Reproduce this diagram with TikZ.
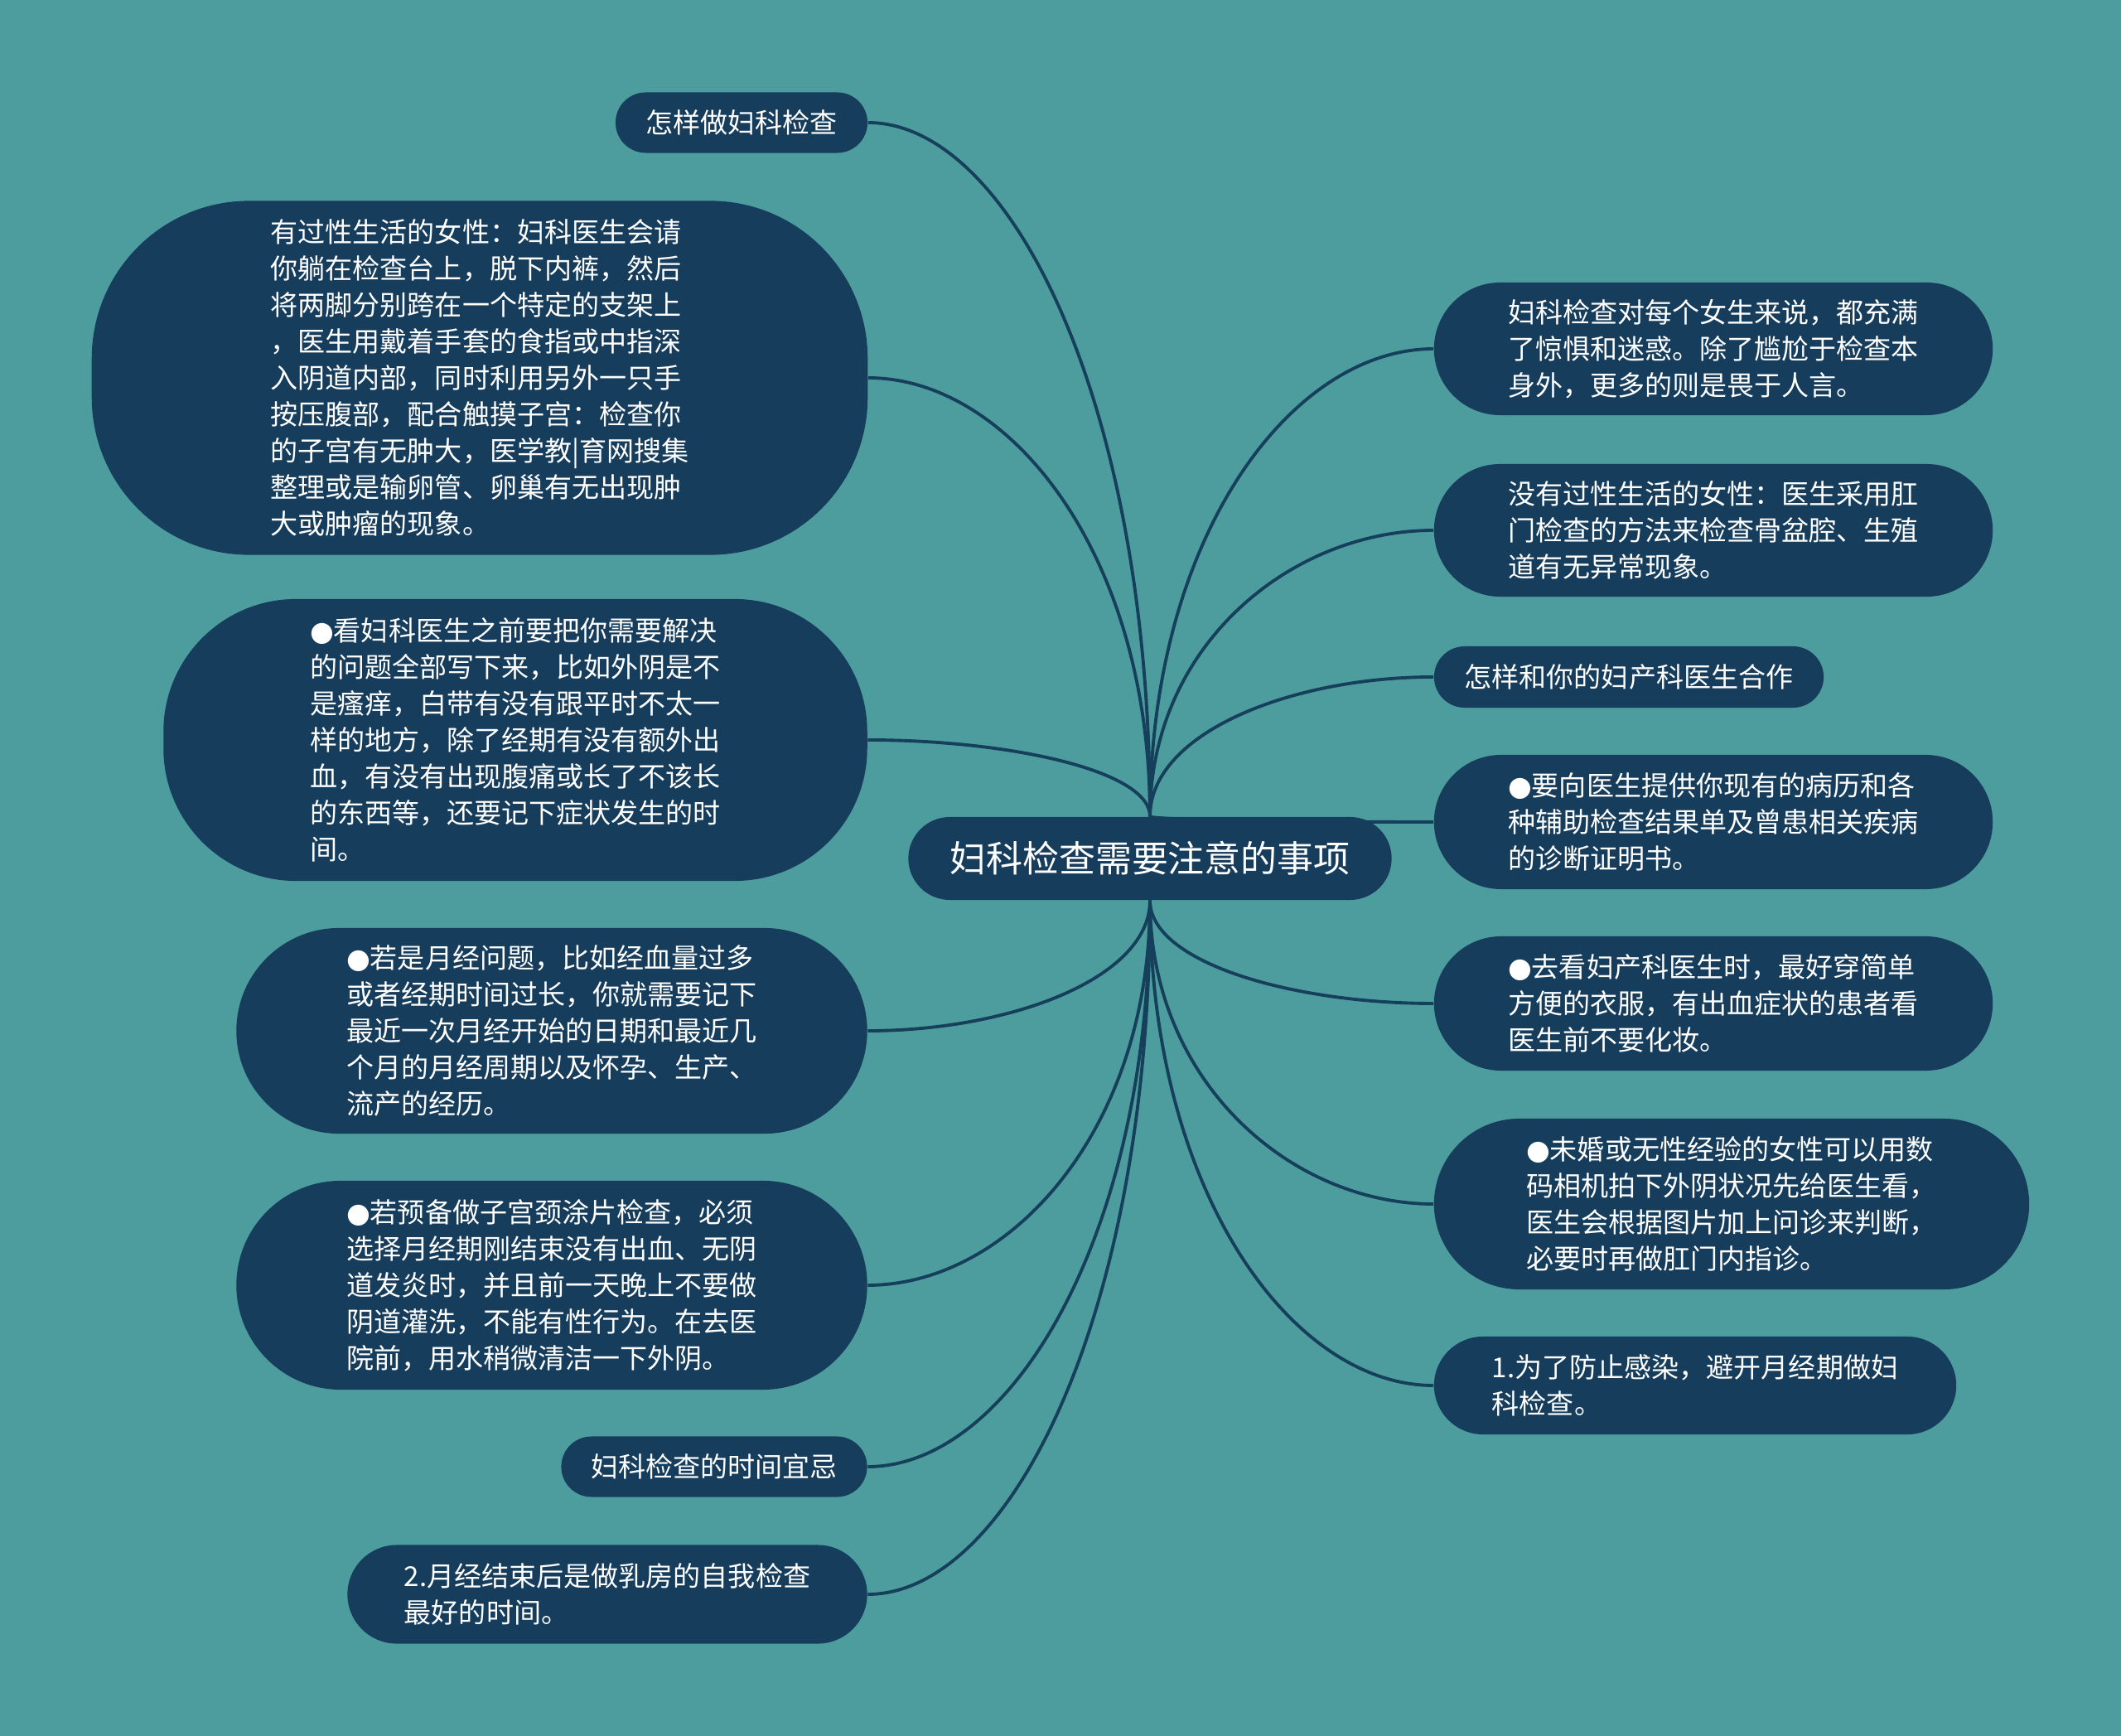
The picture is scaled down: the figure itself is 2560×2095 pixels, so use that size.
\documentclass[tikz,border=0pt]{standalone}
\usepackage{fontspec}
\setmainfont{Noto Sans CJK SC}
\newfontfamily\dotfont{DejaVu Sans}
\usetikzlibrary{calc}
\definecolor{BackClr}{RGB}{78,157,158}
\definecolor{NodeClr}{RGB}{23,61,92}
\definecolor{LinkClr}{RGB}{22,63,92}
\pgfdeclarelayer{back}
\pgfsetlayers{back,main}
\tikzset{
  topic/.style={fill=NodeClr,text=white,align=left,inner sep=0pt,
    font=\fontsize{9.4}{12.5}\selectfont},
  link/.style={draw=LinkClr,line width=1.1pt}
}
\newcommand\bul{{\dotfont\fontsize{9.4}{0}\selectfont●}}
\newcommand\branch[2]{\draw[link] (#1) .. controls ($(#1)!0.6!(#1|-#2)$) and ($(#2)!0.5!(#2-|#1)$) .. (#2);}

\begin{document}
\begin{tikzpicture}[x=0.01cm,y=-0.01cm]

\node[topic,minimum width=5.83cm,minimum height=1cm,rounded corners=0.5cm,
  font=\fontsize{12.5}{15}\selectfont] (root) at (1388,1036) {妇科检查需要注意的事项};

\node[topic,minimum width=3.04cm,minimum height=0.73cm,rounded corners=0.365cm] (how) at (895,148) {怎样做妇科检查};
\node[topic,minimum width=9.36cm,minimum height=4.27cm,rounded corners=1.9cm] (sexed) at (579,456)
  {有过性生活的女性：妇科医生会请\\你躺在检查台上，脱下内裤，然后\\将两脚分别跨在一个特定的支架上\\，医生用戴着手套的食指或中指深\\入阴道内部，同时利用另外一只手\\按压腹部，配合触摸子宫：检查你\\的子宫有无肿大，医学教|育网搜集\\整理或是输卵管、卵巢有无出现肿\\大或肿瘤的现象。};
\node[topic,minimum width=8.49cm,minimum height=3.4cm,rounded corners=1.6cm] (before) at (622,893)
  {\bul 看妇科医生之前要把你需要解决\\的问题全部写下来，比如外阴是不\\是瘙痒，白带有没有跟平时不太一\\样的地方，除了经期有没有额外出\\血，有没有出现腹痛或长了不该长\\的东西等，还要记下症状发生的时\\间。};
\node[topic,minimum width=7.61cm,minimum height=2.48cm,rounded corners=1.24cm] (period) at (666,1244)
  {\bul 若是月经问题，比如经血量过多\\或者经期时间过长，你就需要记下\\最近一次月经开始的日期和最近几\\个月的月经周期以及怀孕、生产、\\流产的经历。};
\node[topic,minimum width=7.61cm,minimum height=2.52cm,rounded corners=1.26cm] (smear) at (666,1551)
  {\bul 若预备做子宫颈涂片检查，必须\\选择月经期刚结束没有出血、无阴\\道发炎时，并且前一天晚上不要做\\阴道灌洗，不能有性行为。在去医\\院前，用水稍微清洁一下外阴。};
\node[topic,minimum width=3.69cm,minimum height=0.73cm,rounded corners=0.365cm] (timing) at (862,1770) {妇科检查的时间宜忌};
\node[topic,minimum width=6.27cm,minimum height=1.19cm,rounded corners=0.595cm] (breast) at (733,1924)
  {2.月经结束后是做乳房的自我检查\\最好的时间。};

\node[topic,minimum width=6.74cm,minimum height=1.6cm,rounded corners=0.8cm] (fear) at (2068,421)
  {妇科检查对每个女生来说，都充满\\了惊惧和迷惑。除了尴尬于检查本\\身外，更多的则是畏于人言。};
\node[topic,minimum width=6.74cm,minimum height=1.6cm,rounded corners=0.8cm] (virgin) at (2068,640)
  {没有过性生活的女性：医生采用肛\\门检查的方法来检查骨盆腔、生殖\\道有无异常现象。};
\node[topic,minimum width=4.7cm,minimum height=0.74cm,rounded corners=0.37cm] (coop) at (1966,817) {怎样和你的妇产科医生合作};
\node[topic,minimum width=6.74cm,minimum height=1.62cm,rounded corners=0.81cm] (records) at (2068,992)
  {\bul 要向医生提供你现有的病历和各\\种辅助检查结果单及曾患相关疾病\\的诊断证明书。};
\node[topic,minimum width=6.74cm,minimum height=1.62cm,rounded corners=0.81cm] (dress) at (2068,1211)
  {\bul 去看妇产科医生时，最好穿简单\\方便的衣服，有出血症状的患者看\\医生前不要化妆。};
\node[topic,minimum width=7.18cm,minimum height=2.06cm,rounded corners=1.03cm] (photo) at (2090,1453)
  {\bul 未婚或无性经验的女性可以用数\\码相机拍下外阴状况先给医生看，\\医生会根据图片加上问诊来判断，\\必要时再做肛门内指诊。};
\node[topic,minimum width=6.3cm,minimum height=1.18cm,rounded corners=0.59cm] (infect) at (2046,1672)
  {1.为了防止感染，避开月经期做妇\\科检查。};

\begin{pgfonlayer}{back}
\fill[BackClr] (0,0) rectangle (2560,2095);
\branch{root.north}{how.east}
\branch{root.north}{sexed.east}
\branch{root.north}{before.east}
\branch{root.south}{period.east}
\branch{root.south}{smear.east}
\branch{root.south}{timing.east}
\branch{root.south}{breast.east}
\branch{root.north}{fear.west}
\branch{root.north}{virgin.west}
\branch{root.north}{coop.west}
\branch{root.north}{records.west}
\branch{root.south}{dress.west}
\branch{root.south}{photo.west}
\branch{root.south}{infect.west}
\end{pgfonlayer}

\end{tikzpicture}
\end{document}
